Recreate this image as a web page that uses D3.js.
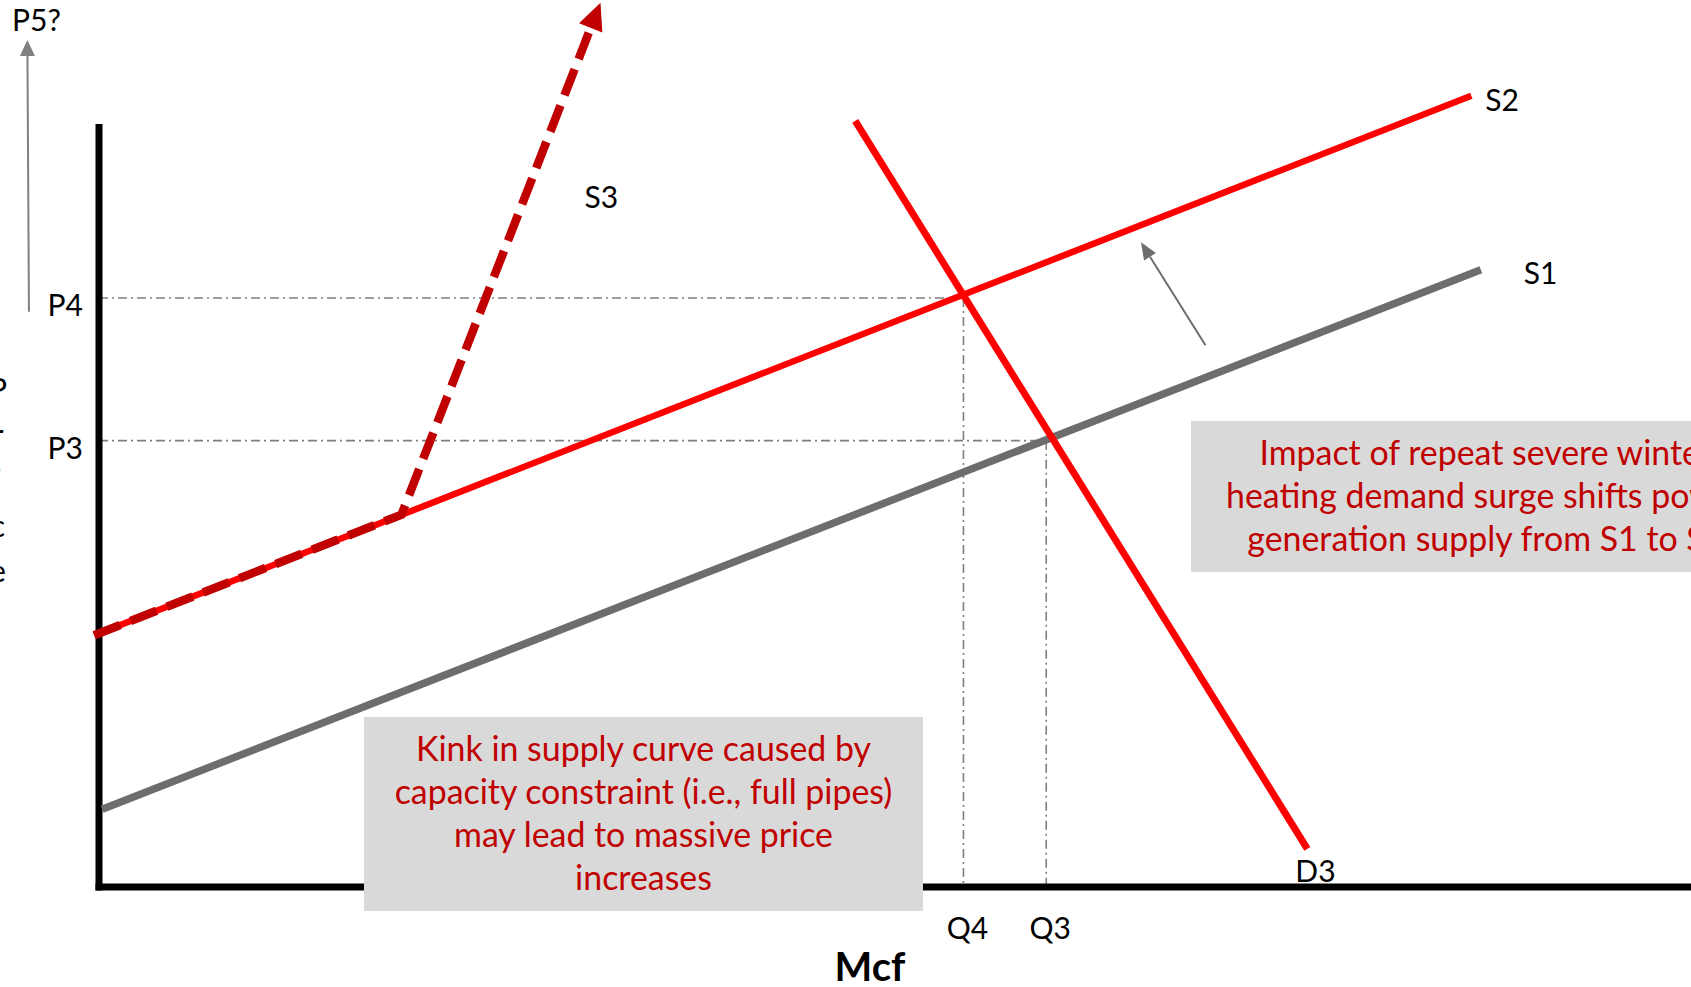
<!DOCTYPE html>
<html>
<head>
<meta charset="utf-8">
<script src="https://cdn.jsdelivr.net/npm/d3@7"></script>
<style>
  html, body { margin: 0; padding: 0; background: #fff; overflow: hidden; }
  svg { display: block; }
  text { font-family: Lato, "Noto Sans", sans-serif; }
</style>
</head>
<body>
<div id="chart"></div>
<script>
// curves in chart units: quantity 0-100 on x, price 0-100 on y
const supplyS1 = [[0.2, 10.2], [86.8, 80.9]];
const supplyS2 = [[-0.3, 33.0], [86.2, 103.7]];
const supplyS3 = [[-0.3, 33.0], [19.0, 48.8], [31.5, 115.9]];
const demandD3 = [[47.5, 100.4], [75.9, 5.0]];

const priceNames = ['P4', 'P3'];
const priceValues = [77.2, 58.5];
const qtyNames = ['Q4', 'Q3'];
const qtyValues = [54.3, 59.5];

const shiftArrow = [[69.5, 71.0], [65.45, 84.5]];
const p5Arrow = [[-4.4, 75.4], [-4.5, 111.0]];

const axisLabelY = 'Price';
const axisLabelX = 'Mcf';
const p5Label = 'P5?';

const noteShift = ['Impact of repeat severe winter', 'heating demand surge shifts power', 'generation supply from S1 to S2'];
const noteKink = ['Kink in supply curve caused by', 'capacity constraint (i.e., full pipes)', 'may lead to massive price', 'increases'];

const W = 1691, H = 987;
const x = d3.scaleLinear().domain([0, 100]).range([99, 1691]);
const y = d3.scaleLinear().domain([0, 100]).range([887, 124]);
const px = d => [x(d[0]), y(d[1])];

const svg = d3.select('#chart').append('svg').attr('width', W).attr('height', H);
const line = d3.line();

// returns [triangle points, base point] for an arrow at the end of p0 -> p1
function arrowHead(p0, p1, len, wid) {
  const dx = p1[0] - p0[0], dy = p1[1] - p0[1];
  const l = Math.hypot(dx, dy), ux = dx / l, uy = dy / l;
  const b = [p1[0] - ux * len, p1[1] - uy * len];
  const tri = [p1, [b[0] - uy * wid / 2, b[1] + ux * wid / 2], [b[0] + uy * wid / 2, b[1] - ux * wid / 2]];
  return [tri, b];
}

function drawArrow(g, pts, color, sw, len, wid, dash) {
  const p = pts.map(px);
  const [tri, base] = arrowHead(p[p.length - 2], p[p.length - 1], len, wid);
  const body = p.slice(0, -1).concat([base]);
  g.append('path').attr('d', line(body)).attr('fill', 'none')
    .attr('stroke', color).attr('stroke-width', sw)
    .attr('stroke-dasharray', dash || null);
  g.append('polygon').attr('points', tri.map(d => d.join(',')).join(' ')).attr('fill', color);
}

// dash-dot guides
const guides = svg.append('g').attr('stroke', '#7f7f7f').attr('stroke-width', 1.6)
  .attr('stroke-dasharray', '9 4 2 4').attr('fill', 'none');
priceValues.forEach((p, i) => {
  guides.append('path').attr('d', line([px([0, p]), px([qtyValues[i], p])]));
  guides.append('path').attr('d', line([px([qtyValues[i], p]), px([qtyValues[i], 0])]));
});

// axes
const axes = svg.append('g').attr('stroke', '#000').attr('stroke-width', 7);
axes.append('line').attr('x1', x(0)).attr('x2', x(0)).attr('y1', y(100)).attr('y2', y(0) + 3.5);
axes.append('line').attr('x1', x(0) - 3.5).attr('x2', x(100)).attr('y1', y(0)).attr('y2', y(0));

// curves
svg.append('path').attr('d', line(supplyS1.map(px))).attr('stroke', '#6d6d6d').attr('stroke-width', 7.5).attr('fill', 'none');
svg.append('path').attr('d', line(supplyS2.map(px))).attr('stroke', '#ff0000').attr('stroke-width', 6.5).attr('fill', 'none');
drawArrow(svg.append('g'), supplyS3, '#c00000', 8.5, 27, 25, '28 11');
svg.append('path').attr('d', line(demandD3.map(px))).attr('stroke', '#ff0000').attr('stroke-width', 7).attr('fill', 'none');

drawArrow(svg.append('g'), shiftArrow, '#6d6d6d', 2, 17, 14);
drawArrow(svg.append('g'), p5Arrow, '#808080', 2, 16, 15);

// labels
const lab = svg.append('g').attr('font-size', 30).attr('fill', '#000');
lab.append('text').attr('x', 12).attr('y', 31).text(p5Label);
priceNames.forEach((n, i) => {
  lab.append('text').attr('x', x(0) - 16).attr('y', y(priceValues[i]) + 18)
    .attr('text-anchor', 'end').text(n);
});
qtyNames.forEach((n, i) => {
  lab.append('text').attr('x', x(qtyValues[i]) + 4).attr('y', 939)
    .attr('text-anchor', 'middle').text(n);
});
const endOf = a => px(a[a.length - 1]);
const s1e = endOf(supplyS1), s2e = endOf(supplyS2), s3e = endOf(supplyS3), d3e = endOf(demandD3);
lab.append('text').attr('x', s1e[0] + 43).attr('y', s1e[1] + 14).text('S1');
lab.append('text').attr('x', s2e[0] + 14).attr('y', s2e[1] + 15).text('S2');
lab.append('text').attr('x', s3e[0] - 16).attr('y', s3e[1] + 205).text('S3');
lab.append('text').attr('x', d3e[0] - 12).attr('y', d3e[1] + 33).text('D3');
lab.append('text').attr('x', 870).attr('y', 981).attr('text-anchor', 'middle')
  .attr('font-size', 40).attr('font-weight', 700).text(axisLabelX);
axisLabelY.split('').forEach((c, i) => {
  lab.append('text').attr('x', -2).attr('y', 400 + i * 45.5).attr('text-anchor', 'middle').text(c);
});

// note boxes
function measure(str, size) {
  const t = svg.append('text').attr('font-size', size).text(str);
  const w = t.node().getComputedTextLength();
  t.remove();
  return w;
}
const noteSize = 100 * 498 / measure(noteKink[1], 100);

function noteBox(lines, left, top, h, cx, firstBase) {
  const g = svg.append('g');
  g.append('rect').attr('x', left).attr('y', top).attr('width', 2 * (cx - left)).attr('height', h).attr('fill', '#d9d9d9');
  lines.forEach((s, i) => {
    g.append('text').attr('x', cx).attr('y', firstBase + i * 43).attr('text-anchor', 'middle')
      .attr('font-size', noteSize).attr('fill', '#c00000').text(s);
  });
}
noteBox(noteKink, 364, 717, 194, 643.5, 761);
const shiftCx = 1226 + measure(noteShift[1], noteSize) / 2;
noteBox(noteShift, 1191, 421, 151, shiftCx, 465);
</script>
</body>
</html>
